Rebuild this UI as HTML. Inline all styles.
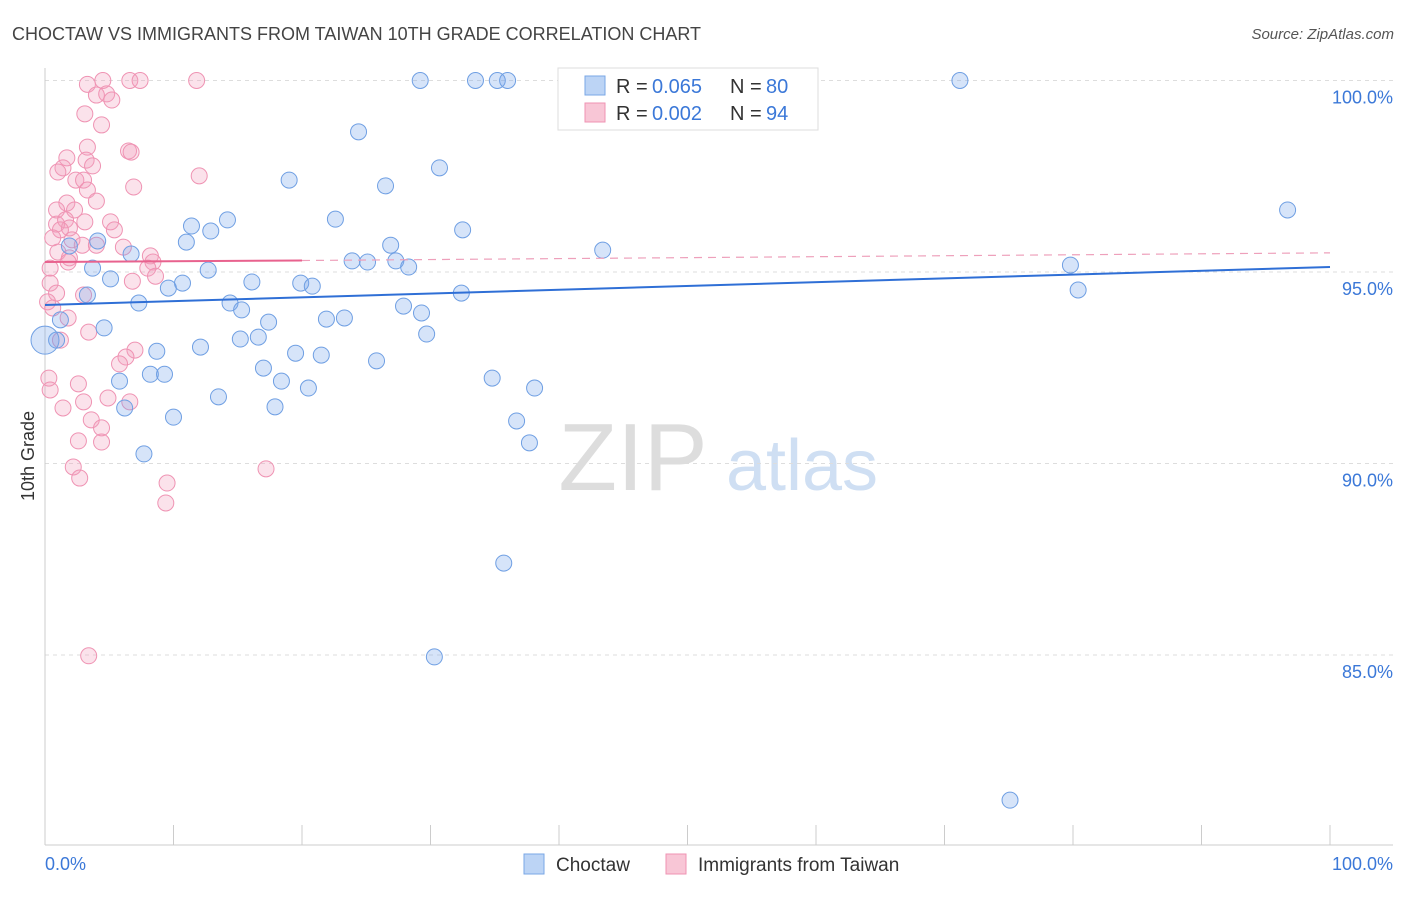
<!DOCTYPE html>
<html><head><meta charset="utf-8"><style>
body{margin:0;background:#fff;font-family:"Liberation Sans",sans-serif;}
svg text{font-family:"Liberation Sans",sans-serif;}
</style></head><body>
<svg id="chart" width="1406" height="892" viewBox="0 0 1406 892" xmlns="http://www.w3.org/2000/svg">
<text x="12" y="40" font-size="18" fill="#444">CHOCTAW VS IMMIGRANTS FROM TAIWAN 10TH GRADE CORRELATION CHART</text>
<text x="1394" y="39" font-size="15" fill="#555" text-anchor="end" font-style="italic">Source: ZipAtlas.com</text>
<text transform="translate(34,456) rotate(-90)" font-size="18" fill="#333" text-anchor="middle">10th Grade</text>
<g>
<text x="633" y="490" font-size="96" fill="#ddd" font-family="Liberation Serif, serif" text-anchor="middle">ZIP</text>
<text x="802" y="490" font-size="72" fill="#cfdff3" text-anchor="middle">atlas</text>
</g>
<g id="grid"></g><g id="axes"></g><g id="marks"></g>
<g>
<rect x="558" y="68" width="260" height="62" fill="#fff" stroke="#ddd"/>
<rect x="585" y="76" width="20" height="19" fill="#bcd4f5" stroke="#7aa7e6"/>
<text x="616" y="93" font-size="20" fill="#333">R =</text>
<text x="652" y="93" font-size="20" fill="#3b78d8">0.065</text>
<text x="730" y="93" font-size="20" fill="#333">N =</text>
<text x="766" y="93" font-size="20" fill="#3b78d8">80</text>
<rect x="585" y="103" width="20" height="19" fill="#f8c6d6" stroke="#ef93b3"/>
<text x="616" y="120" font-size="20" fill="#333">R =</text>
<text x="652" y="120" font-size="20" fill="#3b78d8">0.002</text>
<text x="730" y="120" font-size="20" fill="#333">N =</text>
<text x="766" y="120" font-size="20" fill="#3b78d8">94</text>
</g>
<g>
<rect x="524" y="854" width="20" height="20" fill="#bcd4f5" stroke="#7aa7e6"/>
<text x="556" y="871" font-size="19" fill="#333">Choctaw</text>
<rect x="666" y="854" width="20" height="20" fill="#f8c6d6" stroke="#ef93b3"/>
<text x="698" y="871" font-size="19" fill="#333">Immigrants from Taiwan</text>
</g>
</svg>
<script>
const yTicks=[100,95,90,85];
const yTickLabels=["100.0%","95.0%","90.0%","85.0%"];
const xEndLabels=["0.0%","100.0%"];
const blueX=[29.2,33.5,35.2,36.0,45.5,51.0,71.2,24.4,30.7,19.0,26.5,96.7,14.2,22.6,11.4,12.9,32.5,4.1,11.0,26.9,43.4,6.7,1.9,23.9,25.1,27.3,79.8,3.7,12.7,28.3,5.1,10.7,16.1,19.9,20.8,9.6,32.4,80.4,3.3,7.3,14.4,15.3,27.9,29.3,21.9,23.3,17.4,4.6,1.2,29.7,15.2,12.1,16.6,8.7,19.5,21.5,25.8,17.0,8.2,9.3,5.8,18.4,34.8,38.1,20.5,13.5,17.9,6.2,10.0,36.7,37.7,7.7,35.7,30.3,75.1,0.9];
const blueY=[100,100,100,100,100,100,100,98.66,97.72,97.40,97.25,96.62,96.36,96.38,96.20,96.07,96.10,95.81,95.78,95.70,95.57,95.47,95.68,95.29,95.26,95.29,95.18,95.10,95.05,95.13,94.82,94.71,94.74,94.71,94.63,94.58,94.45,94.53,94.40,94.19,94.19,94.01,94.11,93.93,93.77,93.80,93.69,93.54,93.75,93.38,93.25,93.04,93.30,92.93,92.88,92.83,92.68,92.49,92.33,92.33,92.15,92.15,92.23,91.97,91.97,91.74,91.48,91.45,91.21,91.11,90.54,90.25,87.40,84.95,81.21,93.22];
const bigBlue=[0.0,93.22];
const pinkX=[4.5,6.6,7.4,11.8,3.3,4.0,4.8,5.2,3.1,4.4,6.5,6.7,3.3,1.7,3.2,1.4,3.7,1.0,12.0,2.4,3.0,6.9,3.3,4.0,1.7,0.9,2.3,5.1,0.9,1.6,3.1,1.9,1.2,5.4,0.6,2.1,2.9,6.1,4.0,1.0,1.9,8.2,8.4,8.0,0.4,1.8,6.8,8.6,0.4,0.9,0.2,0.6,3.0,1.8,3.4,1.2,7.0,6.3,5.8,0.3,2.6,0.4,4.9,3.0,6.6,1.4,3.6,4.4,2.6,4.4,2.2,2.7,9.5,17.2,9.4,3.4];
const pinkY=[100,100,100,100,99.9,99.62,99.65,99.49,99.13,98.84,98.16,98.13,98.26,97.98,97.92,97.72,97.77,97.61,97.51,97.40,97.40,97.22,97.14,96.85,96.80,96.62,96.62,96.31,96.25,96.36,96.31,96.15,96.10,96.10,95.89,95.84,95.70,95.65,95.70,95.52,95.37,95.42,95.26,95.10,95.10,95.26,94.76,94.89,94.71,94.45,94.22,94.06,94.40,93.80,93.43,93.22,92.96,92.78,92.60,92.23,92.08,91.92,91.71,91.61,91.61,91.45,91.14,90.93,90.59,90.56,89.91,89.62,89.49,89.86,88.97,84.98];
const blueTrend=[94.14,95.13];
const pinkTrend=[95.26,95.30,95.50];
const X=v=>45+v*12.85, Y=v=>80.5+(100-v)*38.3;
const NS="http://www.w3.org/2000/svg";
function mk(p,t,a){const e=document.createElementNS(NS,t);for(const k in a)e.setAttribute(k,a[k]);p.appendChild(e);return e;}
const grid=document.getElementById('grid'),axes=document.getElementById('axes'),marks=document.getElementById('marks');
yTicks.forEach((t,i)=>{
 const l=mk(grid,'line',{x1:45,x2:1393,y1:Y(t),y2:Y(t),stroke:'#ddd','stroke-dasharray':'4 4'});
 
 
 const tx=mk(axes,'text',{x:1393,y:Y(t)+23,'font-size':18,fill:'#3b78d8','text-anchor':'end'});tx.textContent=yTickLabels[i];
 
 
});
const ax=mk(axes,'line',{x1:45,x2:45,y1:68,y2:845,stroke:'#ccc'});


const bx=mk(axes,'line',{x1:45,x2:1393,y1:845,y2:845,stroke:'#ccc'});


for(let i=0;i<=10;i++){const t=mk(axes,'line',{x1:X(i*10),x2:X(i*10),y1:825,y2:845,stroke:'#ccc'});
 
 }
const xl0=mk(axes,'text',{x:45,y:870,'font-size':18,fill:'#3b78d8'});xl0.textContent=xEndLabels[0];


const xl1=mk(axes,'text',{x:1393,y:870,'font-size':18,fill:'#3b78d8','text-anchor':'end'});xl1.textContent=xEndLabels[1];


pinkX.forEach((v,i)=>{const c=mk(marks,'circle',{cx:X(v),cy:Y(pinkY[i]),r:8,fill:'rgba(243,160,190,0.3)',stroke:'#ef93b3','stroke-width':1});
 
 });
blueX.forEach((v,i)=>{const c=mk(marks,'circle',{cx:X(v),cy:Y(blueY[i]),r:8,fill:'rgba(120,165,235,0.3)',stroke:'#6f9fe3','stroke-width':1});
 
 });
const bb=mk(marks,'circle',{cx:X(bigBlue[0]),cy:Y(bigBlue[1]),r:14,fill:'rgba(120,165,235,0.3)',stroke:'#6f9fe3'});


const bt=mk(marks,'line',{x1:X(0),x2:X(100),y1:Y(blueTrend[0]),y2:Y(blueTrend[1]),stroke:'#2f6fd6','stroke-width':2});


const pt=mk(marks,'line',{x1:X(0),x2:X(20),y1:Y(pinkTrend[0]),y2:Y(pinkTrend[1]),stroke:'#e8628e','stroke-width':2});


const pd=mk(marks,'line',{x1:X(20),x2:X(100),y1:Y(pinkTrend[1]),y2:Y(pinkTrend[2]),stroke:'#eea0bb','stroke-width':1.2,'stroke-dasharray':'8 6'});


</script>
</body></html>
